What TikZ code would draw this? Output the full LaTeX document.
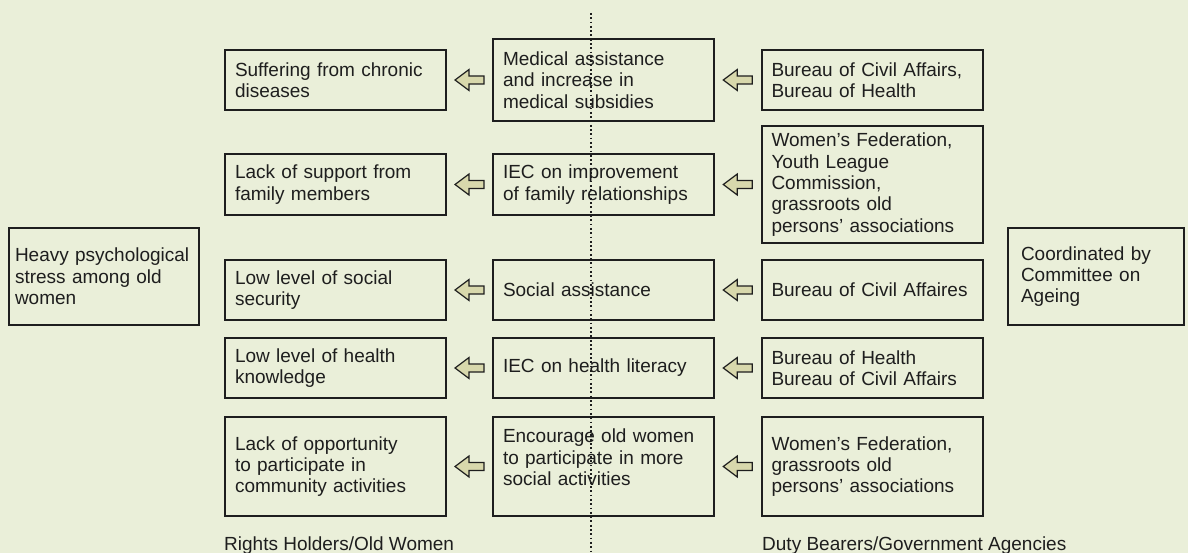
\documentclass[tikz,border=0pt]{standalone}
\usepackage{fontspec}
\setmainfont{Liberation Sans}
\usetikzlibrary{calc}

\definecolor{bgcol}{RGB}{234,239,217}
\definecolor{arrowcol}{RGB}{216,216,172}
\definecolor{textcol}{RGB}{30,30,30}

% fat arrow pointing from node #1 to node #2 (leftwards)
\newcommand{\fatarrow}[2]{%
  \filldraw[Arrow] ($(#1.west)!0.5!(#2.east)$) ++(-14.5,0) -- ++(14,-10.5) -- ++(0,6.5)
    -- ++(15,0) -- ++(0,8) -- ++(-15,0) -- ++(0,6.5) -- cycle;}

\begin{document}
\begin{tikzpicture}[x=1pt, y=-1pt]
	\tikzstyle{Box} = [rectangle, draw=textcol, line width=2pt, fill=bgcol, text=textcol, align=left, inner xsep=10pt, inner ysep=3pt, text width=201pt, font=\fontsize{19}{21.3}\selectfont]
	\tikzstyle{Label} = [inner sep=0pt, text=textcol, font=\fontsize{19}{21.3}\selectfont]
	\tikzstyle{Arrow} = [draw=textcol, fill=arrowcol, line width=1.2pt, line join=miter]
	
	\fill [bgcol] (0,0) rectangle (1188,553);
	\useasboundingbox (0,0) rectangle (1188,553);
	
	\node (hl) [Box, text width=178pt, inner xsep=6pt, minimum height=97pt] at (104,276.5) {Heavy psychological\\stress among old\\women};
	\node (cc) [Box, text width=150pt, inner xsep=13pt, minimum height=97pt] at (1096,276.5) {Coordinated by\\Committee on\\Ageing};
	
	\node (l1) [Box, minimum height=60pt] at (335.5,80) {Suffering from chronic\\diseases};
	\node (m1) [Box, minimum height=82pt] at (603.5,80) {Medical assistance\\and increase in\\medical subsidies};
	\node (r1) [Box, minimum height=60pt] at (872,80) {Bureau of Civil Affairs,\\Bureau of Health};
	
	\node (l2) [Box, minimum height=61pt] at (335.5,184.5) {Lack of support from\\family members};
	\node (m2) [Box, minimum height=61pt] at (603.5,184.5) {IEC on improvement\\of family relationships};
	\node (r2) [Box, minimum height=117pt] at (872,184.5) {Women’s Federation,\\Youth League\\Commission,\\grassroots old\\persons’ associations};
	
	\node (l3) [Box, minimum height=60pt] at (335.5,290) {Low level of social\\security};
	\node (m3) [Box, minimum height=60pt] at (603.5,290) {Social assistance};
	\node (r3) [Box, minimum height=60pt] at (872,290) {Bureau of Civil Affaires};
	
	\node (l4) [Box, minimum height=60pt] at (335.5,368) {Low level of health\\knowledge};
	\node (m4) [Box, minimum height=60pt] at (603.5,368) {IEC on health literacy};
	\node (r4) [Box, minimum height=60pt] at (872,368) {Bureau of Health\\Bureau of Civil Affairs};
	
	\node (l5) [Box, minimum height=99pt] at (335.5,466.5) {Lack of opportunity\\to participate in\\community activities};
	\node (m5) [Box, minimum height=99pt, text depth=61pt] at (603.5,466.5) {Encourage old women\\to participate in more\\social activities};
	\node (r5) [Box, minimum height=99pt] at (872,466.5) {Women’s Federation,\\grassroots old\\persons’ associations};
	
	\fatarrow{m1}{l1} \fatarrow{r1}{m1}
	\fatarrow{m2}{l2} \fatarrow{r2}{m2}
	\fatarrow{m3}{l3} \fatarrow{r3}{m3}
	\fatarrow{m4}{l4} \fatarrow{r4}{m4}
	\fatarrow{m5}{l5} \fatarrow{r5}{m5}
	
	\node (rh) [Label, anchor=base west] at (224,550) {Rights Holders/Old Women};
	\node (db) [Label, anchor=base west] at (762,550) {Duty Bearers/Government Agencies};
	
	% dividing line
	\coordinate (top) at (591,13);
	\coordinate (bot) at (591,553);
	\draw [textcol, line width=1.5pt, dash pattern=on 1.8pt off 2.5pt] (top) -- (bot);
\end{tikzpicture}
\end{document}
